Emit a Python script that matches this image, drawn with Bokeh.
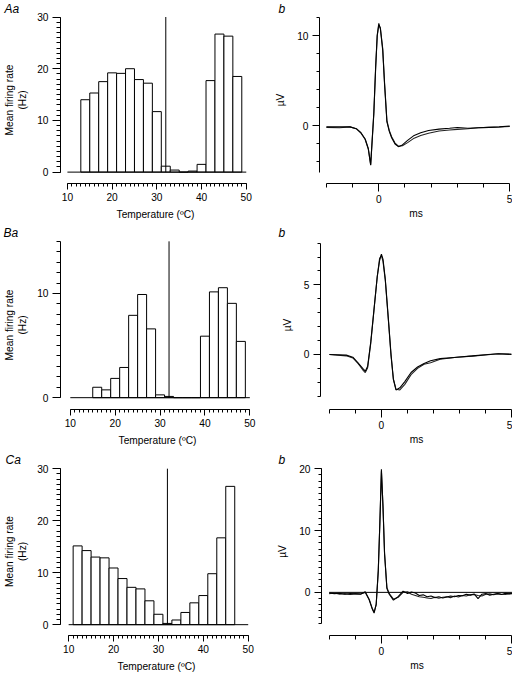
from bokeh.plotting import figure
from bokeh.layouts import column, row
from bokeh.models import FixedTicker, SingleIntervalTicker, Range1d
from bokeh.embed import file_html
from bokeh.resources import INLINE

# ---------------- data ----------------
bin_width = 2
threshold_temp = 32

A_bin_left = [13, 15, 17, 19, 21, 23, 25, 27, 29, 31, 33, 35, 37, 39, 41, 43, 45, 47]
A_rate = [14.0, 15.3, 17.5, 19.2, 19.1, 20.0, 17.9, 17.2, 11.7, 1.15, 0.4, 0.0, 0.2, 1.5, 17.7, 26.7, 26.3, 18.5]

B_bin_left = [15, 17, 19, 21, 23, 25, 27, 29, 31, 33, 35, 37, 39, 41, 43, 45, 47]
B_rate = [1.0, 0.75, 1.85, 2.9, 7.9, 9.9, 6.6, 0.27, 0.12, 0.0, 0.0, 0.0, 5.9, 10.15, 10.55, 9.05, 5.4]

C_bin_left = [11, 13, 15, 17, 19, 21, 23, 25, 27, 29, 31, 33, 35, 37, 39, 41, 43, 45]
C_rate = [15.15, 14.25, 13.0, 12.85, 10.9, 8.87, 7.18, 6.88, 4.59, 2.0, 0.24, 0.9, 2.35, 4.2, 5.6, 9.8, 16.7, 26.6]

temp_axis = (10, 50)
temp_major, temp_minor_count = 10, 10
A_rate_axis = (0, 30)
B_rate_axis = (0, 15)
C_rate_axis = (0, 30)
rate_major, rate_minor_count = 10, 10

A_time = [-2.0, -1.5, -1.1, -0.86, -0.68, -0.52, -0.40, -0.31, -0.19, -0.12, -0.06, 0.0, 0.06, 0.15,
          0.22, 0.31, 0.40, 0.49, 0.62, 0.75, 0.90, 1.10, 1.35, 1.60, 1.90, 2.30, 2.70, 3.00, 3.40,
          3.80, 4.20, 4.60, 5.0]
A_trace1 = [-0.1, -0.1, -0.1, -0.3, -0.75, -1.45, -2.5, -4.35, 1.5, 6.6, 10.1, 11.4, 10.8, 8.4,
            4.6, 0.45, -0.6, -1.3, -2.0, -2.3, -2.1, -1.6, -1.05, -0.75, -0.5, -0.35, -0.25, -0.17,
            -0.25, -0.2, -0.15, -0.1, 0.0]
A_trace2 = [-0.15, -0.2, -0.1, -0.3, -0.8, -1.5, -2.6, -4.3, 1.3, 6.4, 10.0, 11.2, 10.9, 8.6,
            4.8, 0.6, -0.5, -1.2, -1.9, -2.25, -2.2, -1.85, -1.35, -1.05, -0.8, -0.55, -0.45, -0.38,
            -0.3, -0.2, -0.15, -0.12, -0.05]

B_time = [-2.0, -1.35, -1.1, -0.9, -0.72, -0.62, -0.53, -0.41, -0.29, -0.16, -0.07, 0.0, 0.06, 0.15,
          0.27, 0.37, 0.46, 0.56, 0.71, 0.9, 1.14, 1.39, 1.64, 1.89, 2.26, 2.9, 3.5, 4.1, 4.5, 5.0]
B_trace1 = [0.0, -0.05, -0.2, -0.6, -1.0, -1.2, -0.85, 0.9, 3.15, 5.6, 6.75, 7.2, 6.85, 5.4,
            2.5, 0.0, -1.75, -2.55, -2.4, -1.95, -1.3, -0.9, -0.65, -0.45, -0.3, -0.2, -0.1, 0.0, 0.05, 0.0]
B_trace2 = [0.0, -0.1, -0.25, -0.65, -1.1, -1.3, -0.95, 0.8, 3.1, 5.6, 6.9, 7.1, 6.7, 5.3,
            2.4, -0.1, -1.8, -2.5, -2.55, -2.15, -1.45, -1.0, -0.7, -0.6, -0.35, -0.2, -0.12, -0.02, 0.05, 0.02]

C_time = [-2.0, -1.8, -1.6, -1.4, -1.2, -1.0, -0.8, -0.62, -0.47, -0.35,
          -0.28, -0.2, -0.12, -0.06, 0.0, 0.06, 0.12, 0.21, 0.3, 0.46,
          0.64, 0.83, 1.0, 1.15, 1.3, 1.45, 1.6, 1.75, 1.9, 2.05,
          2.2, 2.35, 2.5, 2.65, 2.8, 2.95, 3.1, 3.25, 3.4, 3.55,
          3.7, 3.85, 4.0, 4.15, 4.3, 4.45, 4.6, 4.75, 4.9, 5.0]
C_trace1 = [-0.1, -0.2, -0.15, -0.3, -0.2, -0.25, -0.3, 0.1, -1.2, -2.7,
            -3.35, -1.9, 3.6, 11.3, 19.9, 13.8, 6.2, 0.6, -0.3, -1.25,
            -0.7, 0.2, -0.2, 0.05, -0.1, -0.5, -0.4, -0.7, -0.6, -0.85,
            -0.7, -0.9, -0.75, -0.6, -0.7, -0.5, -0.55, -0.3, -0.45, -0.25,
            -1.0, -0.3, -0.2, -0.45, -0.3, -0.2, -0.35, -0.15, -0.25, -0.2]
C_trace2 = [-0.2, -0.1, -0.3, -0.2, -0.35, -0.2, -0.25, 0.0, -1.1, -2.6,
            -3.2, -2.0, 3.4, 11.0, 19.6, 14.0, 6.4, 0.8, -0.2, -1.1,
            -0.8, 0.0, 0.1, -0.3, -0.5, -0.7, -0.8, -0.9, -1.0, -0.8,
            -0.95, -0.8, -0.7, -0.85, -0.6, -0.75, -0.5, -0.6, -0.4, -0.35,
            -0.5, -0.6, -0.3, -0.25, -0.4, -0.2, -0.3, -0.35, -0.2, -0.15]

time_axis = (-2, 5)
time_labels = [0, 5]
time_minor = [-2, -1, 1, 2, 3, 4]
A_uv_axis = (-5.15, 12)
B_uv_axis = (-3, 8)
C_uv_axis = (-5, 20)

FONT = "Liberation Sans"
S = 0.97  # whole chart scaled so it fits comfortably inside the window


def sc(v):
    return int(round(S * v))


def make_panel(fx0, fy0, fw, fh, frame_ref, xmap, ymap):
    L, R, T, B = [sc(v) for v in frame_ref]

    def xval(pg):
        return xmap[0] + (pg / S - xmap[1]) * (xmap[2] - xmap[0]) / (xmap[3] - xmap[1])

    def yval(pg):
        return ymap[0] + (pg / S - ymap[1]) * (ymap[2] - ymap[0]) / (ymap[3] - ymap[1])

    p = figure(width=fw, height=fh,
               x_range=Range1d(xval(L), xval(R)), y_range=Range1d(yval(B), yval(T)),
               output_backend="svg", toolbar_location=None,
               min_border_left=L - fx0, min_border_right=fx0 + fw - R,
               min_border_top=T - fy0, min_border_bottom=fy0 + fh - B)
    p.outline_line_color = None
    p.xgrid.visible = False
    p.ygrid.visible = False
    p.background_fill_color = "white"
    p.border_fill_color = "white"
    return p


def style_axis(ax, bounds, ticker, major_out, minor_out, standoff, label, label_standoff):
    ax.bounds = bounds
    ax.ticker = ticker
    ax.axis_line_color = "black"
    ax.axis_line_width = 1
    ax.major_tick_line_color = "black"
    ax.minor_tick_line_color = "black"
    ax.major_tick_in = 0
    ax.minor_tick_in = 0
    ax.major_tick_out = major_out
    ax.minor_tick_out = minor_out
    ax.major_label_standoff = standoff
    ax.major_label_text_font = FONT
    ax.major_label_text_font_size = "10.2px"
    ax.major_label_text_color = "black"
    ax.axis_label = label
    ax.axis_label_standoff = label_standoff
    ax.axis_label_text_font = FONT
    ax.axis_label_text_font_size = "10.2px"
    ax.axis_label_text_font_style = "normal"
    ax.axis_label_text_color = "black"


def set_letter(p, text, frame_left, letter_x):
    p.title.text = text
    p.title.align = "left"
    p.title.standoff = 0
    p.title.offset = sc(letter_x) - sc(frame_left)
    p.title.vertical_align = "middle"
    p.title.text_font = FONT
    p.title.text_font_size = "12px"
    p.title.text_font_style = "italic"
    p.title.text_color = "black"


def hist_panel(fx0, fy0, fw, fh, frame_ref, xmap, ymap, bins, rates, rate_axis, letter, letter_x):
    p = make_panel(fx0, fy0, fw, fh, frame_ref, xmap, ymap)
    right = [b + bin_width for b in bins]
    p.quad(left=bins, right=right, bottom=0, top=rates, fill_color="white",
           line_color="black", line_width=1)
    p.segment(x0=[temp_axis[0]], y0=[0], x1=[temp_axis[1]], y1=[0], line_color="black", line_width=1)
    p.segment(x0=[threshold_temp], y0=[rate_axis[0]], x1=[threshold_temp], y1=[rate_axis[1]],
              line_color="black", line_width=1)
    style_axis(p.xaxis[0], temp_axis, SingleIntervalTicker(interval=temp_major, num_minor_ticks=temp_minor_count),
               6, 3, 3, "Temperature (ºC)", 5)
    style_axis(p.yaxis[0], rate_axis, SingleIntervalTicker(interval=rate_major, num_minor_ticks=rate_minor_count),
               8, 4, 4, "Mean firing rate\n(Hz)", 6)
    set_letter(p, letter, frame_ref[0], letter_x)
    return p


def wave_panel(fx0, fy0, fw, fh, frame_ref, xmap, ymap, t, tr1, tr2, uv_axis, uv_major, uv_minor_count,
               letter_x, zero_line=False):
    p = make_panel(fx0, fy0, fw, fh, frame_ref, xmap, ymap)
    if zero_line:
        p.segment(x0=[time_axis[0]], y0=[0], x1=[time_axis[1]], y1=[0], line_color="black", line_width=1)
    p.line(t, tr2, line_color="#222222", line_width=1.1)
    p.line(t, tr1, line_color="black", line_width=1.1)
    style_axis(p.xaxis[0], time_axis, FixedTicker(ticks=time_labels, minor_ticks=time_minor),
               8, 4, 3, "ms", 2)
    style_axis(p.yaxis[0], uv_axis, SingleIntervalTicker(interval=uv_major, num_minor_ticks=uv_minor_count),
               7, 3, 4, "µV", 8)
    set_letter(p, "b", frame_ref[0], letter_x)
    return p


# layout in reference pixels, scaled by S
COLS = [(0, 268), (268, 528)]
ROWS = [(0, 229), (229, 462), (462, 695)]


def box(c, r):
    x0, x1 = sc(COLS[c][0]), sc(COLS[c][1])
    y0, y1 = sc(ROWS[r][0]), sc(ROWS[r][1])
    return x0, y0, x1 - x0, y1 - y0


pA = hist_panel(*box(0, 0), (59, 258, 15, 193), (10, 66, 50, 253.3), (0, 180.7, 30, 16),
                A_bin_left, A_rate, A_rate_axis, "Aa", 1)
pB = hist_panel(*box(0, 1), (60, 262, 247.3, 425.7), (10, 70, 50, 257), (0, 413.3, 15, 248.3),
                B_bin_left, B_rate, B_rate_axis, "Ba", 1)
pC = hist_panel(*box(0, 2), (58.7, 260, 481.7, 660), (10, 67.3, 50, 255.3), (0, 648.3, 30, 482.7),
                C_bin_left, C_rate, C_rate_axis, "Ca", 2)

qA = wave_panel(*box(1, 0), (329, 528, 13.7, 192.7), (0, 390, 5, 525), (0, 131, 10, 34.3),
                A_time, A_trace1, A_trace2, A_uv_axis, 10, 5, 287)
qB = wave_panel(*box(1, 1), (330.3, 528, 245.7, 426), (0, 392.7, 5, 526.7), (0, 367, 5, 292.7),
                B_time, B_trace1, B_trace2, B_uv_axis, 5, 5, 287)
qC = wave_panel(*box(1, 2), (331, 528, 481.7, 660), (0, 392.7, 5, 527.3), (0, 614, 20, 482.7),
                C_time, C_trace1, C_trace2, C_uv_axis, 10, 10, 287, zero_line=True)

layout = column(row(pA, qA), row(pB, qB), row(pC, qC))
open("out.html", "w").write(file_html(layout, INLINE))
